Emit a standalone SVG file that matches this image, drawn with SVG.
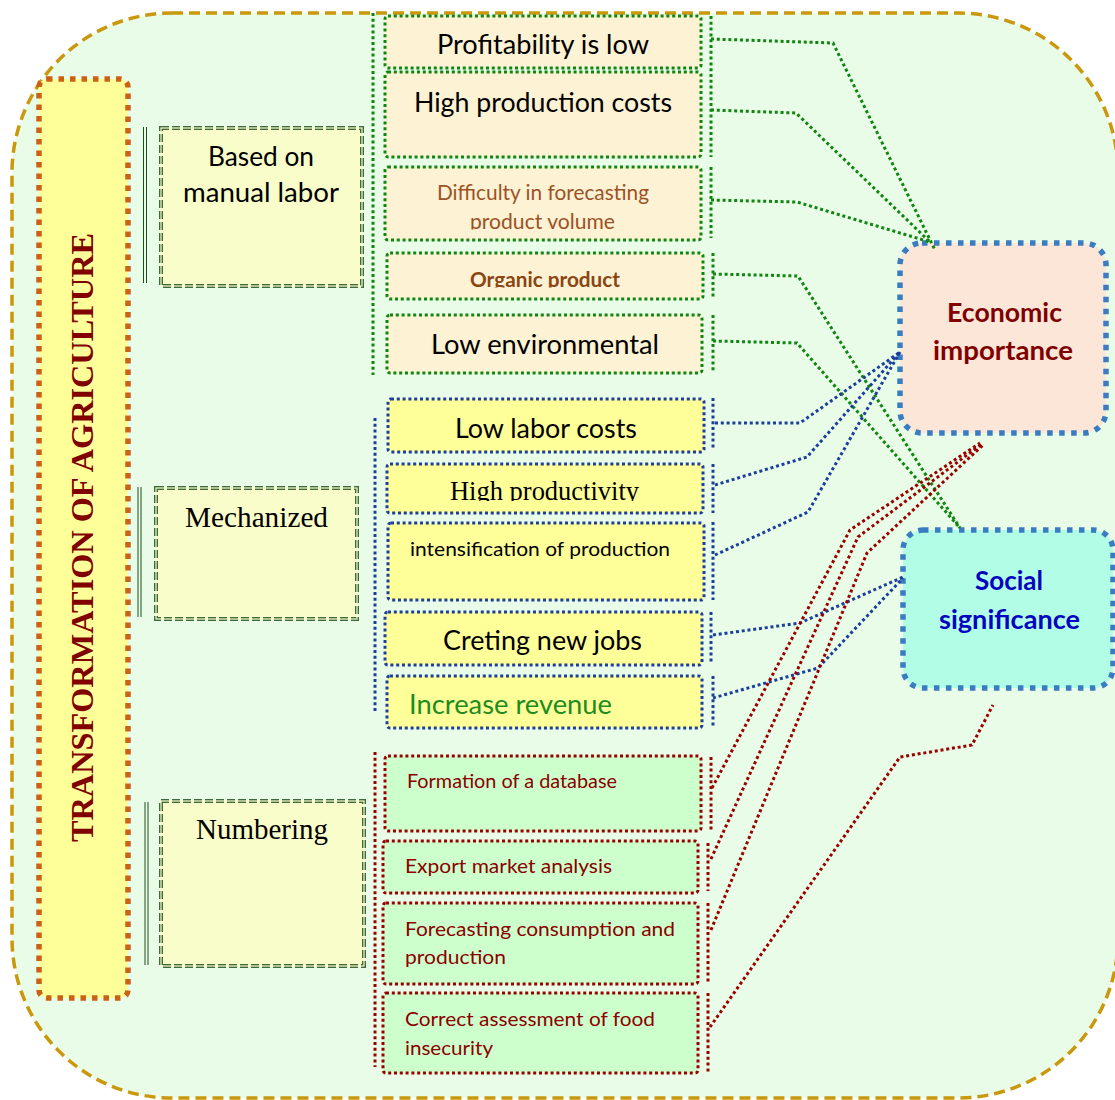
<svg xmlns="http://www.w3.org/2000/svg" width="1115" height="1100" viewBox="0 0 1115 1100">
<defs>
<style>
.sans{font-family:Lato,"Liberation Sans",sans-serif}
.serif{font-family:"Liberation Serif","Times New Roman",serif}
.mid{text-anchor:middle}
.gbox{fill:#FDF2D3;stroke:#108510;stroke-width:3;stroke-dasharray:3 2.8}
.bbox{fill:#FFFF99;stroke:#1C3E9C;stroke-width:3;stroke-dasharray:3 2.8}
.rbox{fill:#CCFFCC;stroke:#9A0000;stroke-width:3;stroke-dasharray:3 2.8}
.gline{fill:none;stroke:#108510;stroke-width:3;stroke-dasharray:3 2.8}
.bline{fill:none;stroke:#1C3E9C;stroke-width:3;stroke-dasharray:3 2.8}
.rline{fill:none;stroke:#9A0000;stroke-width:3;stroke-dasharray:3 2.8}
.cat{fill:#F9FDC9;stroke:#3E6A3E;stroke-width:4;stroke-dasharray:8 3}
.catin{fill:none;stroke:#F9FDC9;stroke-width:1.2}
.dbl{stroke:#1E4E1E;stroke-width:1;fill:none}
.t26{font-size:26px;fill:#000}
.red{fill:#8B0000;font-size:19px}
</style>
<clipPath id="clipG3"><rect x="385" y="167" width="316" height="62.5"/></clipPath>
<clipPath id="clipG4"><rect x="387" y="253" width="316" height="34.5"/></clipPath>
<clipPath id="clipB2"><rect x="387" y="464" width="316" height="37"/></clipPath>
</defs>

<g id="background">
<rect x="12" y="13" width="1106" height="1085" rx="160" fill="#E9FCE7" stroke="#C9980C" stroke-width="3.5" stroke-dasharray="11 6"/>
</g>

<g id="title">
<rect x="39" y="79" width="89" height="919" rx="8" fill="#FFFF99" stroke="#CC6015" stroke-width="5.5" stroke-dasharray="5.5 6"/>
<text class="serif" transform="translate(93,537.5) rotate(-90)" text-anchor="middle" font-size="32" font-weight="bold" fill="#800000" textLength="609" lengthAdjust="spacingAndGlyphs">TRANSFORMATION OF AGRICULTURE</text>
</g>

<g id="cat-manual">
<line class="dbl" x1="143.5" y1="127" x2="143.5" y2="283"/><line class="dbl" x1="146.5" y1="127" x2="146.5" y2="283"/>
<rect class="cat" x="161" y="128" width="201" height="158"/>
<rect class="catin" x="161" y="128" width="201" height="158"/>
<text class="sans mid t26" x="261" y="166" textLength="106" lengthAdjust="spacingAndGlyphs">Based on</text>
<text class="sans mid t26" x="261" y="202" textLength="156" lengthAdjust="spacingAndGlyphs">manual labor</text>
</g>

<g id="cat-mech">
<line class="dbl" x1="138" y1="487" x2="138" y2="617"/><line class="dbl" x1="141" y1="487" x2="141" y2="617"/>
<rect class="cat" x="156" y="488" width="201" height="131"/>
<rect class="catin" x="156" y="488" width="201" height="131"/>
<text class="serif mid" x="256.5" y="527" font-size="29" textLength="143" lengthAdjust="spacingAndGlyphs">Mechanized</text>
</g>

<g id="cat-num">
<line class="dbl" x1="145" y1="802" x2="145" y2="965"/><line class="dbl" x1="148" y1="802" x2="148" y2="965"/>
<rect class="cat" x="161" y="801" width="203" height="165"/>
<rect class="catin" x="161" y="801" width="203" height="165"/>
<text class="serif mid" x="262" y="839" font-size="29" textLength="132" lengthAdjust="spacingAndGlyphs">Numbering</text>
</g>

<g id="brackets">
<line class="gline" x1="373" y1="13" x2="373" y2="375"/>
<line class="bline" x1="375" y1="418" x2="375" y2="713"/>
<line class="rline" x1="375" y1="752" x2="375" y2="1067"/>
<line class="gline" x1="711" y1="16" x2="711" y2="157"/>
<line class="gline" x1="711" y1="167" x2="711" y2="238"/>
<line class="gline" x1="713" y1="253" x2="713" y2="298"/>
<line class="gline" x1="713" y1="315" x2="713" y2="372"/>
<line class="bline" x1="713" y1="398" x2="713" y2="448"/>
<line class="bline" x1="713" y1="464" x2="713" y2="513"/>
<line class="bline" x1="713" y1="522" x2="713" y2="600"/>
<line class="bline" x1="711" y1="612" x2="711" y2="663"/>
<line class="bline" x1="713" y1="676" x2="713" y2="728"/>
<line class="rline" x1="711" y1="757" x2="711" y2="830"/>
<line class="rline" x1="708" y1="843" x2="708" y2="891"/>
<line class="rline" x1="708" y1="903" x2="708" y2="983"/>
<line class="rline" x1="708" y1="993" x2="708" y2="1073"/>
</g>

<g id="item-profitability">
<rect class="gbox" x="385" y="16" width="316" height="52" rx="3"/>
<text class="sans mid t26" x="543" y="54" textLength="212" lengthAdjust="spacingAndGlyphs">Profitability is low</text>
</g>
<g id="item-costs">
<rect class="gbox" x="385" y="72" width="316" height="85" rx="3"/>
<text class="sans mid t26" x="543" y="112" textLength="258" lengthAdjust="spacingAndGlyphs">High production costs</text>
</g>
<g id="item-forecast-volume">
<rect class="gbox" x="385" y="167" width="316" height="73" rx="3"/>
<g clip-path="url(#clipG3)">
<text class="sans mid" x="543" y="200" font-size="21" fill="#9B5226" textLength="212" lengthAdjust="spacingAndGlyphs">Difficulty in forecasting</text>
<text class="sans mid" x="542.5" y="228.5" font-size="21" fill="#9B5226" textLength="145" lengthAdjust="spacingAndGlyphs">product volume</text>
</g>
</g>
<g id="item-organic">
<rect class="gbox" x="387" y="253" width="316" height="46" rx="3"/>
<text class="sans mid" clip-path="url(#clipG4)" x="545" y="287" font-size="20" font-weight="bold" fill="#8B4513" textLength="150" lengthAdjust="spacingAndGlyphs">Organic product</text>
</g>
<g id="item-environmental">
<rect class="gbox" x="387" y="315" width="315" height="58" rx="3"/>
<text class="sans mid" x="545" y="354" font-size="27" textLength="228" lengthAdjust="spacingAndGlyphs">Low environmental</text>
</g>

<g id="item-labor">
<rect class="bbox" x="388" y="399" width="316" height="53" rx="3"/>
<text class="sans mid t26" x="546" y="438" textLength="182" lengthAdjust="spacingAndGlyphs">Low labor costs</text>
</g>
<g id="item-productivity">
<rect class="bbox" x="387" y="464" width="316" height="49" rx="3"/>
<text class="serif mid" clip-path="url(#clipB2)" x="544.5" y="499.5" font-size="26.5" textLength="189" lengthAdjust="spacingAndGlyphs">High productivity</text>
</g>
<g id="item-intensification">
<rect class="bbox" x="388" y="523" width="316" height="77" rx="3"/>
<text class="sans" x="410" y="556" font-size="20" textLength="260" lengthAdjust="spacingAndGlyphs">intensification of production</text>
</g>
<g id="item-jobs">
<rect class="bbox" x="385" y="612" width="317" height="53" rx="3"/>
<text class="sans mid t26" x="542.5" y="650" textLength="199" lengthAdjust="spacingAndGlyphs">Creting new jobs</text>
</g>
<g id="item-revenue">
<rect class="bbox" x="387" y="676" width="315" height="52" rx="3"/>
<text class="sans" x="409" y="714" font-size="26" fill="#1E8C1E" textLength="203" lengthAdjust="spacingAndGlyphs">Increase revenue</text>
</g>

<g id="item-database">
<rect class="rbox" x="385" y="756" width="316" height="75" rx="3"/>
<text class="sans red" x="407" y="788" textLength="210" lengthAdjust="spacingAndGlyphs">Formation of a database</text>
</g>
<g id="item-export">
<rect class="rbox" x="383" y="841" width="315" height="52" rx="3"/>
<text class="sans red" x="405" y="873" textLength="207" lengthAdjust="spacingAndGlyphs">Export market analysis</text>
</g>
<g id="item-consumption">
<rect class="rbox" x="383" y="903" width="315" height="81" rx="3"/>
<text class="sans red" x="405" y="936" textLength="270" lengthAdjust="spacingAndGlyphs">Forecasting consumption and</text>
<text class="sans red" x="405" y="964" textLength="101" lengthAdjust="spacingAndGlyphs">production</text>
</g>
<g id="item-food">
<rect class="rbox" x="383" y="993" width="315" height="80" rx="3"/>
<text class="sans red" x="405" y="1026" textLength="250" lengthAdjust="spacingAndGlyphs">Correct assessment of food</text>
<text class="sans red" x="405" y="1055" textLength="88" lengthAdjust="spacingAndGlyphs">insecurity</text>
</g>

<g id="economic">
<rect x="900" y="243" width="206" height="190" rx="22" fill="#FCE6D8" stroke="#3A7CC2" stroke-width="5.5" stroke-dasharray="5.5 6.5"/>
<text class="sans mid" x="1004.5" y="322" font-size="26" font-weight="bold" fill="#800000" textLength="115" lengthAdjust="spacingAndGlyphs">Economic</text>
<text class="sans mid" x="1003" y="360" font-size="26" font-weight="bold" fill="#800000" textLength="140" lengthAdjust="spacingAndGlyphs">importance</text>
</g>

<g id="social">
<rect x="903" y="530" width="210" height="158" rx="20" fill="#B2FDE5" stroke="#3A7CC2" stroke-width="5.5" stroke-dasharray="5.5 6.5"/>
<text class="sans mid" x="1009" y="590" font-size="26" font-weight="bold" fill="#0505C0" textLength="68" lengthAdjust="spacingAndGlyphs">Social</text>
<text class="sans mid" x="1009.5" y="629" font-size="26" font-weight="bold" fill="#0505C0" textLength="141" lengthAdjust="spacingAndGlyphs">significance</text>
</g>

<g id="connectors">
<polyline class="gline" points="711,39 833,43 935,250"/>
<polyline class="gline" points="711,110 796,113 930,242"/>
<polyline class="gline" points="711,200 797,202 930,242"/>
<polyline class="gline" points="713,274 798,276 960,528"/>
<polyline class="gline" points="713,341 797,343 960,528"/>
<polyline class="bline" points="715,423 800,423 900,352"/>
<polyline class="bline" points="715,485 807,457 900,352"/>
<polyline class="bline" points="715,555 808,512 900,352"/>
<polyline class="bline" points="713,635 800,623 903,577"/>
<polyline class="bline" points="713,698 818,668 903,578"/>
<polyline class="rline" points="712,788 850,530 980,443"/>
<polyline class="rline" points="711,859 858,537 983,443"/>
<polyline class="rline" points="711,930 867,553 983,445"/>
<polyline class="rline" points="710,1027 900,757 972,745 993,705"/>
</g>
</svg>
